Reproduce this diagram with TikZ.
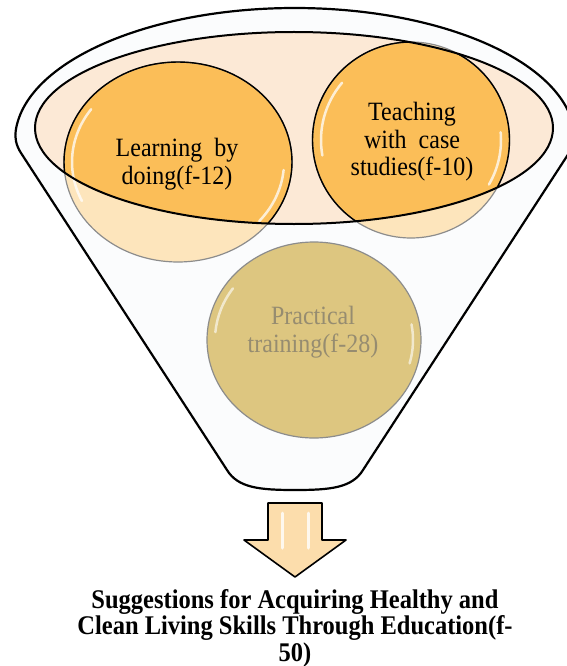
\documentclass[tikz,border=0pt]{standalone}
\usepackage{fontspec}
\setmainfont{Liberation Serif}
\usepackage{xcolor}
\usepackage{tikz}
\usetikzlibrary{shapes}
\definecolor{rimwhite}{RGB}{247,248,251}
\definecolor{mouthpeach}{RGB}{252,233,214}
\definecolor{bubbleorange}{RGB}{251,190,88}
\definecolor{bubbletan}{RGB}{221,198,128}
\definecolor{tantext}{RGB}{150,140,112}
\definecolor{arrowpeach}{RGB}{252,221,172}
\tikzstyle{funnel} = [fill=rimwhite]
\tikzstyle{funnel rim} = [draw=black, line width=2.2pt, line join=round]
\tikzstyle{mouth} = [ellipse, fill=mouthpeach, minimum width=518pt,
    minimum height=192pt, inner sep=0pt]
\tikzstyle{bubble} = [ellipse, fill=bubbleorange, inner sep=0pt]
\tikzstyle{faded bubble} = [ellipse, fill=bubbletan, draw=black!45,
    line width=1.2pt, inner sep=0pt]
\tikzstyle{faded rim} = [draw=black!45, line width=1.2pt]
\tikzstyle{bubble rim} = [draw=black, line width=1.4pt]
\tikzstyle{gloss} = [white, line width=2.5pt, opacity=.75, line cap=round]
\tikzstyle{bubble text} = [align=center, inner sep=0pt, yscale=1.1,
    font=\fontsize{24}{25}\selectfont]
\tikzstyle{result} = [align=center, inner sep=0pt, yscale=1.1,
    font=\fontsize{24.5}{24.2}\selectfont\bfseries]
\tikzstyle{block arrow} = [draw=black, line width=1.6pt, fill=arrowpeach,
    line join=round]
\newcommand{\funnelpath}{(227,-470) -- (21,-153)
    .. controls (15.8,-145) and (14.7,-137.4) .. (15.7,-130.8)
    arc[start angle=176, end angle=4, x radius=280pt, y radius=132pt]
    .. controls (575.3,-137.4) and (574.2,-145) .. (569,-153) -- (363,-470)
    .. controls (352,-488) and (330,-490) .. (295,-490)
    .. controls (260,-490) and (238,-488) .. (227,-470) -- cycle}

\begin{document}
\begin{tikzpicture}[x=1pt, y=1pt]
  \useasboundingbox (0,0) rectangle (566,-666);
  % Funnel
  \fill[funnel] \funnelpath;
  \node[mouth] (mouth) at (294,-128) {};
  % Place nodes
  \node[bubble, minimum width=228pt, minimum height=200pt] (learn) at (178,-162) {};
  \node[bubble, minimum width=197pt, minimum height=196pt] (teach) at (411,-140) {};
  \draw[gloss] (learn.center) ++(205:106 and 92)
    arc[start angle=205, end angle=145, x radius=106pt, y radius=92pt];
  \draw[gloss] (learn.center) ++(-5:106 and 92)
    arc[start angle=-5, end angle=-40, x radius=106pt, y radius=92pt];
  \draw[gloss] (teach.center) ++(190:90 and 89)
    arc[start angle=190, end angle=140, x radius=90pt, y radius=89pt];
  \draw[gloss] (teach.center) ++(5:90 and 89)
    arc[start angle=5, end angle=-30, x radius=90pt, y radius=89pt];
  % funnel body in front
  \fill[white, opacity=.6, even odd rule] \funnelpath
    (mouth.center) ellipse[x radius=259pt, y radius=96pt];
  \draw[faded rim] (learn.center) ellipse[x radius=114pt, y radius=100pt];
  \draw[faded rim] (teach.center) ellipse[x radius=98.5pt, y radius=98pt];
  \begin{scope}
    \clip (mouth.center) ellipse[x radius=259pt, y radius=96pt];
    \draw[bubble rim] (learn.center) ellipse[x radius=114pt, y radius=100pt];
    \draw[bubble rim] (teach.center) ellipse[x radius=98.5pt, y radius=98pt];
  \end{scope}
  \draw[black, line width=2pt] (mouth.center) ellipse[x radius=259pt, y radius=96pt];
  \draw[funnel rim] \funnelpath;
  \node[faded bubble, minimum width=214pt, minimum height=196pt] (practice) at (314,-340) {};
  \draw[gloss, opacity=.6] (practice.center) ++(175:99 and 90)
    arc[start angle=175, end angle=145, x radius=99pt, y radius=90pt];
  \draw[gloss, opacity=.6] (practice.center) ++(10:99 and 90)
    arc[start angle=10, end angle=-15, x radius=99pt, y radius=90pt];
  % Labels
  \node[bubble text] (learntext) at (177,-164) {Learning\enspace by\\doing(f-12)};
  \node[bubble text] (teachtext) at (412,-142) {Teaching\\with\enspace case\\studies(f-10)};
  \node[bubble text, text=tantext] (practicetext) at (313,-332) {Practical\\training(f-28)};
  % Arrow and result
  \draw[block arrow] (268,-503) -- (322,-503) -- (322,-540) -- (346,-540)
    -- (295,-577) -- (244,-540) -- (268,-540) -- cycle;
  \draw[gloss, opacity=.8, line width=3pt] (282,-513) -- (282,-548);
  \draw[gloss, opacity=.8, line width=3pt] (308,-513) -- (308,-548);
  \node[result] (suggest) at (295,-628)
    {Suggestions for Acquiring Healthy and\\
     Clean Living Skills Through Education(f-\\50)};
\end{tikzpicture}
\end{document}
